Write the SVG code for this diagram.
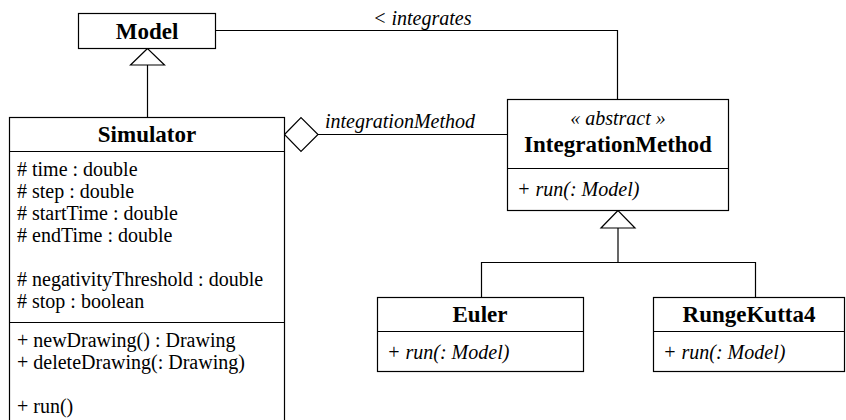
<svg xmlns="http://www.w3.org/2000/svg" width="846" height="420" viewBox="0 0 846 420" font-family="Liberation Serif, Times New Roman, Tinos, DejaVu Serif, serif">
<style>
.box{fill:#fff;stroke:#000;stroke-width:1.2}
.sep{stroke:#000;stroke-width:1.2}
.ln{fill:none;stroke:#000;stroke-width:1.2}
.head{fill:#fff;stroke:#000;stroke-width:1.2}
.t{font-size:20px}
.i{font-size:20px;font-style:italic}
.b{font-size:23px;font-weight:bold;text-anchor:middle}
</style>
<rect width="846" height="420" fill="#fff"/>
<g id="connectors">
  <polyline class="ln" points="215.5,30.5 617.5,30.5 617.5,99.5"/>
  <text class="i" x="373" y="25">&lt; integrates</text>
  <line class="ln" x1="147.5" y1="117.5" x2="147.5" y2="65"/>
  <polygon class="head" points="147.5,48.5 130.5,65 164.5,65"/>
  <line class="ln" x1="318" y1="134.5" x2="507.5" y2="134.5"/>
  <polygon class="head" points="284.5,134.5 301,117.5 318,134.5 301,151.5"/>
  <text class="i" x="325" y="128">integrationMethod</text>
  <line class="ln" x1="618" y1="228" x2="618" y2="262.5"/>
  <polygon class="head" points="618,210.5 601,228 635,228"/>
  <polyline class="ln" points="481.5,297.5 481.5,262.5 755.5,262.5 755.5,297.5"/>
</g>
<g id="model">
  <rect class="box" x="78.5" y="13.5" width="137" height="35"/>
  <text class="b" x="147" y="39">Model</text>
</g>
<g id="simulator">
  <rect class="box" x="9.5" y="117.5" width="275" height="320"/>
  <line class="sep" x1="9.5" y1="151.5" x2="284.5" y2="151.5"/>
  <line class="sep" x1="9.5" y1="322.5" x2="284.5" y2="322.5"/>
  <text class="b" x="147" y="142">Simulator</text>
  <text class="t" x="17" y="176"># time : double</text>
  <text class="t" x="17" y="198"># step : double</text>
  <text class="t" x="17" y="220"># startTime : double</text>
  <text class="t" x="17" y="242"># endTime : double</text>
  <text class="t" x="17" y="286"># negativityThreshold : double</text>
  <text class="t" x="17" y="308"># stop : boolean</text>
  <text class="t" x="17" y="347">+ newDrawing() : Drawing</text>
  <text class="t" x="17" y="369">+ deleteDrawing(: Drawing)</text>
  <text class="t" x="17" y="413">+ run()</text>
</g>
<g id="integrationMethod">
  <rect class="box" x="507.5" y="99.5" width="221" height="111"/>
  <line class="sep" x1="507.5" y1="168.5" x2="728.5" y2="168.5"/>
  <text class="i" x="618" y="125" text-anchor="middle">« abstract »</text>
  <text class="b" x="618" y="152">IntegrationMethod</text>
  <text class="i" x="517" y="196">+ run(: Model)</text>
</g>
<g id="euler">
  <rect class="box" x="377.5" y="297.5" width="206" height="74"/>
  <line class="sep" x1="377.5" y1="331.5" x2="583.5" y2="331.5"/>
  <text class="b" x="480" y="322">Euler</text>
  <text class="i" x="387" y="359">+ run(: Model)</text>
</g>
<g id="rungeKutta4">
  <rect class="box" x="653.5" y="297.5" width="191" height="74"/>
  <line class="sep" x1="653.5" y1="331.5" x2="844.5" y2="331.5"/>
  <text class="b" x="749" y="322">RungeKutta4</text>
  <text class="i" x="663" y="359">+ run(: Model)</text>
</g>
</svg>
